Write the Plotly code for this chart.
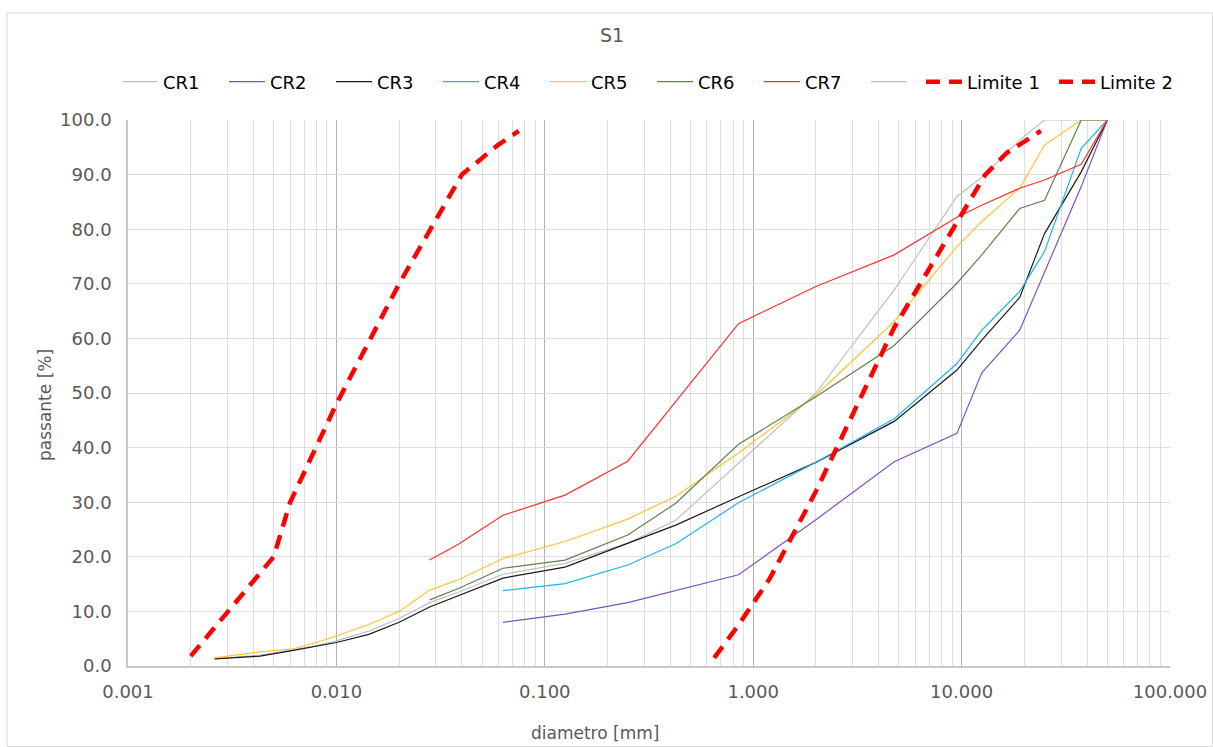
import plotly.graph_objects as go

# ---------------- data ----------------
hydro = [0.0026, 0.0043, 0.0063, 0.0080, 0.0100, 0.0143, 0.0200, 0.0280, 0.0385]
sieves = [0.063, 0.125, 0.25, 0.425, 0.85, 2.0, 4.75, 9.5, 12.5, 19.0, 25.0, 37.5, 50.0]

cr1_h = [1.3, 2.0, 3.0, 3.7, 4.6, 6.4, 8.7, 11.6, 13.5]
cr1_s = [16.8, 18.8, 22.5, 26.7, 37.1, 50.0, 68.9, 86.0, 89.5, 96.3, 100, 100, 100]

cr2_h = [None] * 9
cr2_s = [8.0, 9.5, 11.6, 13.8, 16.7, 26.8, 37.4, 42.6, 53.7, 61.5, 72.2, 87.8, 100]

cr3_h = [1.3, 1.8, 2.9, 3.6, 4.3, 5.8, 8.0, 10.8, 12.9]
cr3_s = [16.1, 18.1, 22.5, 25.8, 31.0, 37.3, 44.8, 54.2, 59.7, 67.5, 79.2, 90.5, 100]

cr4_h = [None] * 9
cr4_s = [13.8, 15.1, 18.5, 22.4, 29.9, 37.3, 45.3, 55.4, 61.5, 68.6, 75.9, 94.8, 100]

cr5_h = [1.5, 2.6, 3.2, 4.3, 5.5, 7.6, 10.0, 13.9, 15.8]
cr5_s = [19.7, 22.8, 26.9, 31.1, 39.0, 49.6, 63.1, 76.8, 81.4, 87.5, 95.4, 100, 100]

cr6_h = [None] * 7 + [12.1, 14.2]
cr6_s = [17.9, 19.4, 24.0, 29.8, 40.6, 49.3, 58.7, 70.1, 75.3, 83.8, 85.3, 100, 100]

cr7_h = [None] * 7 + [19.4, 22.3]
cr7_s = [27.6, 31.3, 37.5, None, 62.7, 69.5, 75.3, 82.2, 84.4, 87.5, 89.0, 91.9, 100]

lim1_x = [0.002, 0.005, 0.006, 0.010, 0.020, 0.040, 0.060, 0.075]
lim1_y = [1.8, 20.0, 30.0, 48.0, 70.0, 90.0, 95.5, 98.0]

lim2_x = [0.65, 0.85, 1.2, 2.0, 4.75, 10.0, 13.0, 16.5, 20.0, 24.0]
lim2_y = [1.5, 7.5, 16.0, 32.0, 62.0, 83.0, 90.0, 94.0, 96.0, 98.0]

series_names = ["CR1", "CR2", "CR3", "CR4", "CR5", "CR6", "CR7"]
series_colors = ["#c0c0c0", "#7f50c0", "#1a1a1a", "#1eb4ee", "#ffc433", "#5f8050", "#ff3030"]
series_vals = [(cr1_h, cr1_s), (cr2_h, cr2_s), (cr3_h, cr3_s), (cr4_h, cr4_s),
               (cr5_h, cr5_s), (cr6_h, cr6_s), (cr7_h, cr7_s)]

x_tickvals = [0.001, 0.01, 0.1, 1, 10, 100]
x_ticktext = ["0.001", "0.010", "0.100", "1.000", "10.000", "100.000"]

# ---------------- figure ----------------
FONT = "DejaVu Sans"
GREY_TXT = "#595959"

fig = go.Figure()
xs = hydro + sieves
for name, col, (h, s) in zip(series_names, series_colors, series_vals):
    fig.add_trace(go.Scatter(x=xs, y=h + s, mode="lines", name=name,
                             connectgaps=True, legend="legend",
                             line=dict(color=col, width=1.2)))

# unnamed grey series in legend
fig.add_trace(go.Scatter(x=[None], y=[None], mode="lines", name=" ",
                         legend="legend",
                         line=dict(color="#c0c0c0", width=1.2)))

fig.add_trace(go.Scatter(x=lim1_x, y=lim1_y, mode="lines", name="Limite 1",
                         legend="legend2",
                         line=dict(color="#ff0000", width=4.5, dash="14px,9px")))
fig.add_trace(go.Scatter(x=lim2_x, y=lim2_y, mode="lines", name="Limite 2",
                         legend="legend2",
                         line=dict(color="#ff0000", width=4.5, dash="14px,9px")))

W, H = 1213, 747
L, R, T, B = 128, 1170, 120, 666
pw, ph = R - L, B - T

def px_to_paper_x(px):
    return (px - L) / pw

def px_to_paper_y(py):
    return (B - py) / ph

legend_common = dict(orientation="h", yanchor="middle", y=px_to_paper_y(82),
                     xanchor="left", entrywidthmode="pixels",
                     font=dict(family=FONT, size=18, color="#000000"),
                     bgcolor="rgba(0,0,0,0)", itemwidth=36)

fig.update_layout(
    width=W, height=H,
    margin=dict(l=L, r=W - R, t=T, b=H - B, autoexpand=False),
    paper_bgcolor="white", plot_bgcolor="white",
    font=dict(family=FONT, size=17, color=GREY_TXT),
    title=dict(text="S1", x=612 / W, xref="container", xanchor="center",
               y=1 - 35 / H, yref="container", yanchor="middle",
               font=dict(family=FONT, size=19, color=GREY_TXT)),
    legend=dict(legend_common, x=px_to_paper_x(117), entrywidth=56),
    legend2=dict(legend_common, x=px_to_paper_x(921), entrywidth=82),
    showlegend=True,
)

fig.update_xaxes(
    type="log", range=[-3, 2],
    tickvals=x_tickvals, ticktext=x_ticktext,
    showgrid=True, gridcolor="#b0b0b0", gridwidth=1,
    minor=dict(dtick="D1", showgrid=True, gridcolor="#dedede", gridwidth=1, ticks=""),
    showline=True, linecolor="#c8c8c8", linewidth=1.5,
    ticks="", ticklabelstandoff=9,
    tickfont=dict(family=FONT, size=18, color=GREY_TXT),
    zeroline=False, automargin=False,
)
fig.update_yaxes(
    range=[0, 100], dtick=10, tickformat=".1f",
    showgrid=True, gridcolor="#dedede", gridwidth=1,
    showline=True, linecolor="#c8c8c8", linewidth=1.5,
    ticks="", ticklabelstandoff=11,
    tickfont=dict(family=FONT, size=18, color=GREY_TXT),
    zeroline=False, automargin=False,
)

# axis titles (placed where the reference has them)
fig.add_annotation(text="diametro [mm]", xref="paper", yref="paper",
                   x=px_to_paper_x(595), y=px_to_paper_y(733),
                   xanchor="center", yanchor="middle", showarrow=False,
                   font=dict(family=FONT, size=17, color=GREY_TXT))
fig.add_annotation(text="passante [%]", xref="paper", yref="paper",
                   x=px_to_paper_x(45), y=px_to_paper_y(405), textangle=-90,
                   xanchor="center", yanchor="middle", showarrow=False,
                   font=dict(family=FONT, size=17, color=GREY_TXT))

# outer chart border
fig.add_shape(type="rect", xref="paper", yref="paper",
              x0=px_to_paper_x(7), x1=px_to_paper_x(1212.5),
              y0=px_to_paper_y(746.5), y1=px_to_paper_y(13),
              line=dict(color="#d9d9d9", width=1), fillcolor="rgba(0,0,0,0)",
              layer="below")

fig.write_html("out.html",
               config={"displayModeBar": False},
               post_script="document.body.style.margin='0';document.body.style.padding='0';")
